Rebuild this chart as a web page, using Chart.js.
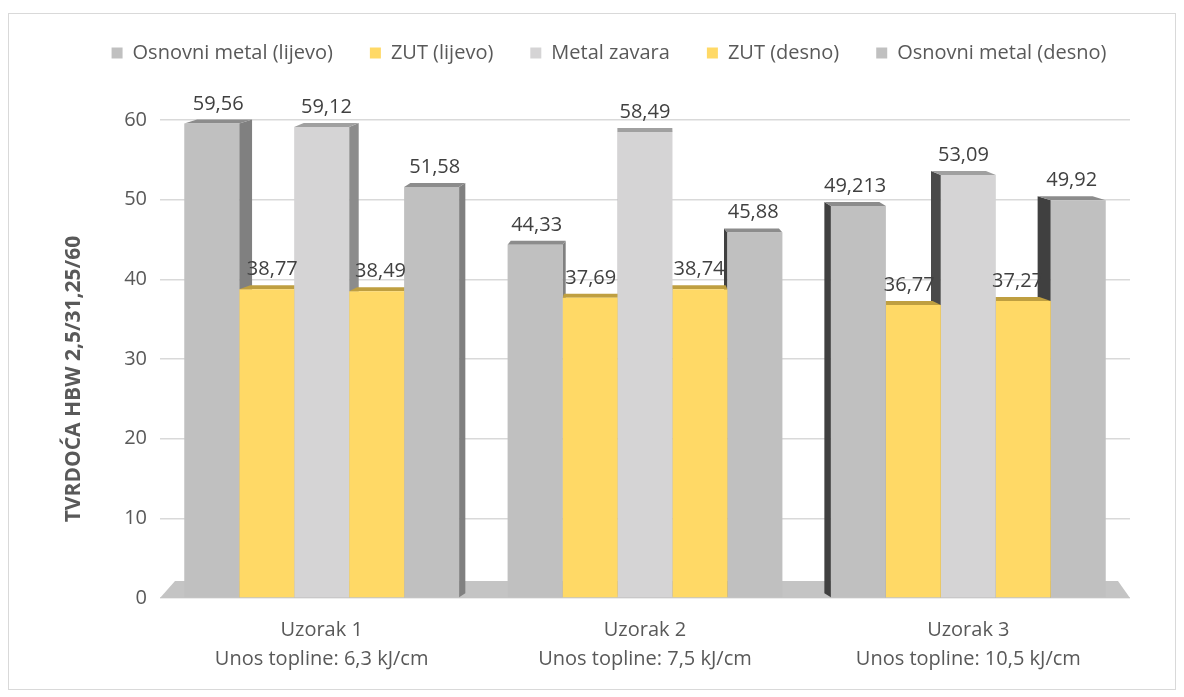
<!DOCTYPE html>
<html>
<head>
<meta charset="utf-8">
<script src="https://cdn.jsdelivr.net/npm/chart.js@4.4.1/dist/chart.umd.min.js"></script>
<style>
  html, body { margin: 0; padding: 0; background: #fff; }
  #wrap { width: 1184px; height: 697px; position: relative; }
</style>
</head>
<body>
<div id="wrap"><canvas id="c" width="1184" height="697"></canvas></div>
<script>
const categories = [
  ["Uzorak 1", "Unos topline: 6,3 kJ/cm"],
  ["Uzorak 2", "Unos topline: 7,5 kJ/cm"],
  ["Uzorak 3", "Unos topline: 10,5 kJ/cm"]
];
const seriesNames = ["Osnovni metal (lijevo)", "ZUT (lijevo)", "Metal zavara", "ZUT (desno)", "Osnovni metal (desno)"];
const osnovniLijevo = [59.56, 44.33, 49.213];
const zutLijevo = [38.77, 37.69, 36.77];
const metalZavara = [59.12, 58.49, 53.09];
const zutDesno = [38.49, 38.74, 37.27];
const osnovniDesno = [51.58, 45.88, 49.92];
const yTicks = [0, 10, 20, 30, 40, 50, 60];
const yTitle = "TVRDOĆA HBW 2,5/31,25/60";

const FONT = "'Open Sans', 'Liberation Sans', sans-serif";
const TXT = "#595959";

// colours per series: front, top, right side, left side
const looks = [
  { front: "#C0C0C0", top: "#8C8C8C", right: "#808080", left: "#404040" },
  { front: "#FFD966", top: "#BF9F40", right: "#BF9F40", left: "#7F6A2A" },
  { front: "#D5D4D5", top: "#A0A0A0", right: "#8C8C8C", left: "#4A4A4A" },
  { front: "#FFD966", top: "#BF9F40", right: "#BF9F40", left: "#7F6A2A" },
  { front: "#C0C0C0", top: "#8C8C8C", right: "#808080", left: "#404040" }
];
const allValues = [osnovniLijevo, zutLijevo, metalZavara, zutDesno, osnovniDesno];

const fmt = v => String(v).replace(".", ",");

// side offset of a bar, bigger the further it is from the vanishing point
function depthX(cx){ return (640 - cx) * 0.03; }
const DY = 4;

const frame = {
  id: "frame",
  beforeDraw(chart){
    const ctx = chart.ctx;
    ctx.save();
    ctx.strokeStyle = "#D9D9D9";
    ctx.lineWidth = 1;
    ctx.strokeRect(8.5, 13.5, 1167, 676);
    // axis title, centred on wall + floor like the original
    ctx.translate(74, 379);
    ctx.rotate(-Math.PI / 2);
    ctx.font = "bold 21px " + FONT;
    ctx.fillStyle = TXT;
    ctx.textAlign = "center";
    ctx.textBaseline = "middle";
    ctx.fillText(yTitle, 0, 0);
    ctx.restore();
  }
};

const floor3d = {
  id: "floor3d",
  beforeDatasetsDraw(chart){
    const {ctx, chartArea: a} = chart;
    ctx.save();
    ctx.fillStyle = "#C4C4C4";
    ctx.beginPath();
    ctx.moveTo(a.left, a.bottom);
    ctx.lineTo(a.right, a.bottom);
    ctx.lineTo(a.right - 12, a.bottom - 17);
    ctx.lineTo(a.left + 15, a.bottom - 17);
    ctx.closePath();
    ctx.fill();

    // side and top faces first, fronts are drawn by Chart.js on top
    chart.data.datasets.forEach((ds, i) => {
      const meta = chart.getDatasetMeta(i);
      meta.data.forEach(bar => {
        const L = bar.x - bar.width / 2, R = bar.x + bar.width / 2;
        const dx = depthX(bar.x);
        const t = bar.y, b = bar.base;
        ctx.fillStyle = dx > 0 ? looks[i].right : looks[i].left;
        const sx = dx > 0 ? R : L;
        ctx.beginPath();
        ctx.moveTo(sx, t);
        ctx.lineTo(sx + dx, t - DY);
        ctx.lineTo(sx + dx, b - DY);
        ctx.lineTo(sx, b);
        ctx.closePath();
        ctx.fill();
      });
    });
    chart.data.datasets.forEach((ds, i) => {
      const meta = chart.getDatasetMeta(i);
      meta.data.forEach(bar => {
        const L = bar.x - bar.width / 2, R = bar.x + bar.width / 2;
        const dx = depthX(bar.x);
        const t = bar.y;
        ctx.fillStyle = looks[i].top;
        ctx.beginPath();
        ctx.moveTo(L, t);
        ctx.lineTo(R, t);
        ctx.lineTo(R + dx, t - DY);
        ctx.lineTo(L + dx, t - DY);
        ctx.closePath();
        ctx.fill();
      });
    });
    ctx.restore();
  },
  afterDatasetsDraw(chart){
    const ctx = chart.ctx;
    ctx.save();
    ctx.font = "20px " + FONT;
    ctx.fillStyle = "#404040";
    ctx.textAlign = "center";
    ctx.textBaseline = "alphabetic";
    chart.data.datasets.forEach((ds, i) => {
      chart.getDatasetMeta(i).data.forEach((bar, j) => {
        const dx = depthX(bar.x);
        ctx.fillText(fmt(ds.data[j]), bar.x + dx / 2, bar.y - 14);
      });
    });
    ctx.restore();
  }
};

// extra room under the legend, and legend nudged right to sit over the whole frame
const legendGap = {
  id: "legendGap",
  beforeInit(chart){
    const lg = chart.legend;
    const fit = lg.fit;
    lg.fit = function(){
      fit.bind(lg)();
      this.height += 47;
    };
    const draw = lg.draw;
    lg.draw = function(){
      chart.ctx.save();
      chart.ctx.translate(44, 0);
      draw.call(lg);
      chart.ctx.restore();
    };
  }
};

new Chart(document.getElementById("c"), {
  type: "bar",
  data: {
    labels: categories,
    datasets: seriesNames.map((name, i) => ({
      label: name,
      data: allValues[i],
      backgroundColor: looks[i].front,
      borderWidth: 0,
      barPercentage: 1,
      categoryPercentage: 0.85
    }))
  },
  options: {
    responsive: false,
    animation: false,
    layout: { padding: { top: 6, right: 54, bottom: 0, left: 0 } },
    plugins: {
      tooltip: { enabled: false },
      legend: {
        position: "top",
        labels: {
          boxWidth: 11,
          boxHeight: 11,
          padding: 37,
          color: TXT,
          font: { family: FONT, size: 20 }
        }
      }
    },
    scales: {
      x: {
        grid: { display: false, drawTicks: false },
        border: { display: false },
        ticks: {
          color: TXT,
          padding: 18,
          font: { family: FONT, size: 20, lineHeight: 1.45 },
          maxRotation: 0
        },
        afterFit(s){ s.height = 99; }
      },
      y: {
        min: 0,
        max: 60,
        afterBuildTicks(s){ s.ticks = yTicks.map(v => ({ value: v })); },
        grid: { color: "#D9D9D9", lineWidth: 1.5, drawTicks: false },
        border: { display: false },
        ticks: {
          color: TXT,
          padding: 13,
          font: { family: FONT, size: 20 }
        },
        afterFit(s){ s.width = 160; }
      }
    }
  },
  plugins: [frame, legendGap, floor3d]
});
</script>
</body>
</html>
